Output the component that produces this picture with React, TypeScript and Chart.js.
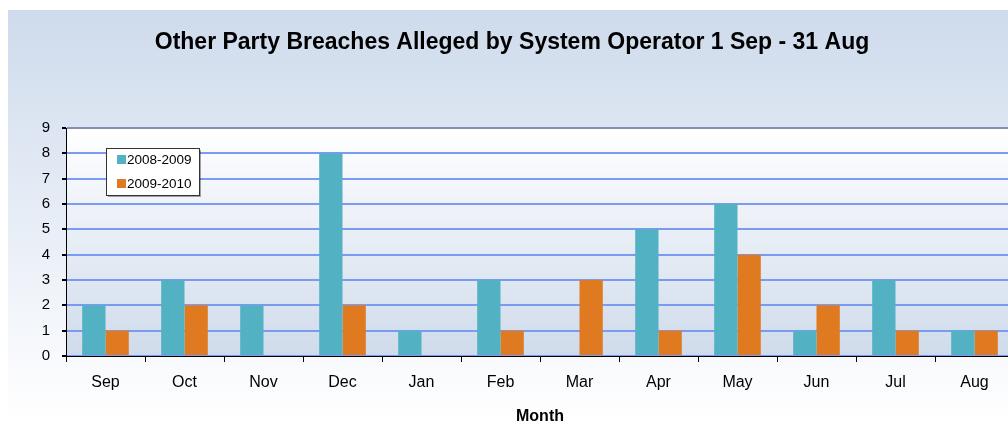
import React, { useEffect, useRef } from "react";
import { Chart, registerables } from "chart.js";

Chart.register(...registerables);

const categories = ["Sep", "Oct", "Nov", "Dec", "Jan", "Feb", "Mar", "Apr", "May", "Jun", "Jul", "Aug"];
const series2008 = [2, 3, 2, 8, 1, 3, 0, 5, 6, 1, 3, 1];
const series2009 = [1, 2, 0, 2, 0, 1, 3, 1, 4, 2, 1, 1];
const seriesLabels = ["2008-2009", "2009-2010"];
const seriesColors = ["#52b1c3", "#e07a20"];
const titleText = "Other Party Breaches Alleged by System Operator 1 Sep - 31 Aug";
const xTitle = "Month";
const FONT = "'Liberation Sans', Arial, sans-serif";

const bgPlugin = {
  id: "bgPlugin",
  beforeDraw(chart: any) {
    const { ctx, width, height, chartArea } = chart;
    ctx.save();
    const g = ctx.createLinearGradient(0, 0, 0, height);
    g.addColorStop(0, "#cedbec");
    g.addColorStop(0.75, "#f3f6fb");
    g.addColorStop(1, "#ffffff");
    ctx.fillStyle = g;
    ctx.fillRect(0, 0, width, height);
    const g2 = ctx.createLinearGradient(0, chartArea.top, 0, chartArea.bottom);
    g2.addColorStop(0, "#ffffff");
    g2.addColorStop(1, "#cfdbeb");
    ctx.fillStyle = g2;
    ctx.fillRect(chartArea.left, chartArea.top, chartArea.right - chartArea.left, chartArea.bottom - chartArea.top);
    // title
    ctx.fillStyle = "#000000";
    ctx.font = `bold 23px ${FONT}`;
    ctx.textAlign = "center";
    ctx.textBaseline = "middle";
    ctx.fillText(titleText, 504, 33);
    ctx.restore();
  },
  afterDraw(chart: any) {
    const { ctx } = chart;
    ctx.save();
    const x = 98, y = 138, w = 93, h = 47;
    ctx.fillStyle = "rgba(0,0,0,0.35)";
    ctx.fillRect(x + 2, y + 2, w, h);
    ctx.fillStyle = "#ffffff";
    ctx.fillRect(x, y, w, h);
    ctx.strokeStyle = "#333333";
    ctx.lineWidth = 1;
    ctx.strokeRect(x + 0.5, y + 0.5, w, h);
    ctx.font = `13.5px ${FONT}`;
    ctx.textAlign = "left";
    ctx.textBaseline = "middle";
    chart.data.datasets.forEach((ds: any, i: number) => {
      const cy = 149 + i * 24;
      ctx.fillStyle = ds.backgroundColor;
      ctx.fillRect(109, cy - 4, 9, 9);
      ctx.fillStyle = "#000000";
      ctx.fillText(ds.label, 119, cy + 1);
    });
    ctx.restore();
  },
};

export default function App() {
  const ref = useRef<HTMLCanvasElement>(null);
  useEffect(() => {
    document.body.style.overflow = "hidden";
    const chart = new Chart(ref.current!, {
      type: "bar",
      data: {
        labels: categories,
        datasets: [
          { label: seriesLabels[0], data: series2008, backgroundColor: seriesColors[0], borderWidth: 0 },
          { label: seriesLabels[1], data: series2009, backgroundColor: seriesColors[1], borderWidth: 0 },
        ],
      },
      options: {
        responsive: false,
        animation: false,
        layout: { padding: { top: 118, right: 6, left: 0, bottom: 0 } },
        plugins: { legend: { display: false }, title: { display: false }, tooltip: { enabled: false } },
        datasets: { bar: { categoryPercentage: 0.59, barPercentage: 1 } },
        scales: {
          x: {
            grid: { drawOnChartArea: false, drawTicks: true, tickLength: 6, tickColor: "#000000", offset: true },
            border: { color: "#000000", width: 1 },
            ticks: { color: "#000000", font: { family: FONT, size: 16 }, padding: 11, maxRotation: 0 },
            title: { display: true, text: xTitle, color: "#000000", font: { family: FONT, size: 16, weight: "bold", lineHeight: 0.75 }, padding: 0 },
            afterFit(scale: any) { scale.height = 67; },
          },
          y: {
            min: 0,
            max: 9,
            ticks: { stepSize: 1, color: "#000000", font: { family: FONT, size: 15 }, padding: 12 },
            grid: {
              color: (c: any) => (c.tick && c.tick.value === 9 ? "#8590b0" : "#7b9bf2"),
              lineWidth: 2,
              tickColor: "#000000",
              tickLength: 4,
            },
            border: { color: "#000000", width: 1 },
            afterFit(scale: any) { scale.width = 58; },
          },
        },
      },
      plugins: [bgPlugin],
    });
    return () => chart.destroy();
  }, []);
  return (
    <div style={{ position: "absolute", left: 8, top: 10, width: 1000, height: 413, overflow: "hidden" }}>
      <canvas ref={ref} width={1012} height={413} style={{ display: "block" }} />
    </div>
  );
}
